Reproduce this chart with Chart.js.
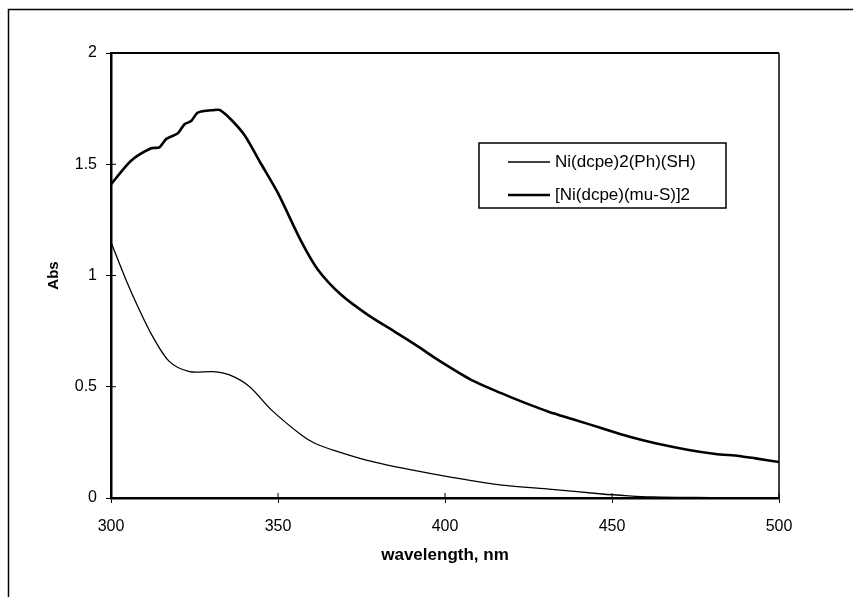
<!DOCTYPE html>
<html>
<head>
<meta charset="utf-8">
<script src="https://cdn.jsdelivr.net/npm/chart.js@4.4.1/dist/chart.umd.min.js"></script>
<style>
  html, body { margin: 0; padding: 0; background: #fff; }
  #wrap { width: 853px; height: 597px; position: relative; }
</style>
</head>
<body>
<div id="wrap"><canvas id="c" width="853" height="597"></canvas></div>
<script>
// ---- data ----
const seriesNames = ["Ni(dcpe)2(Ph)(SH)", "[Ni(dcpe)(mu-S)]2"];

const thinWavelength = [300, 304.5, 308.5, 312.5, 317.5, 323.5, 330.5, 335.5, 341.5, 348, 357, 361, 367, 377, 390, 402, 417, 432, 447, 455, 462, 470, 480, 490, 500];
const thinAbs        = [1.15, 0.98, 0.845, 0.725, 0.613, 0.568, 0.568, 0.553, 0.50, 0.396, 0.283, 0.246, 0.213, 0.168, 0.126, 0.093, 0.058, 0.039, 0.018, 0.010, 0.005, 0.003, 0.002, 0.001, 0.0];

const thickWavelength = [300, 306, 312, 314.5, 316.5, 320, 322, 324, 326, 331, 332.5, 336, 340, 345, 350, 357, 362, 369, 377, 385, 392, 398, 408, 417, 423, 431, 439, 447, 455, 463, 473, 481, 488, 493, 500];
const thickAbs        = [1.41, 1.516, 1.572, 1.576, 1.613, 1.639, 1.68, 1.694, 1.732, 1.744, 1.744, 1.70, 1.63, 1.50, 1.37, 1.152, 1.025, 0.912, 0.822, 0.747, 0.68, 0.62, 0.53, 0.47, 0.433, 0.388, 0.351, 0.313, 0.276, 0.246, 0.216, 0.198, 0.189, 0.178, 0.162];

const xTicks = [300, 350, 400, 450, 500];
const yTicks = [0, 0.5, 1, 1.5, 2];
const xTitle = "wavelength, nm";
const yTitle = "Abs";

// ---- build ----
const toXY = (xs, ys) => xs.map((x, i) => ({ x: x, y: ys[i] }));
const FONT = "'Liberation Sans', Arial, sans-serif";

const frame = {
  id: 'frame',
  beforeDraw(chart) {
    const ctx = chart.ctx;
    ctx.save();
    ctx.fillStyle = '#fff';
    ctx.fillRect(0, 0, chart.width, chart.height);
    ctx.strokeStyle = '#000';
    ctx.lineWidth = 1.5;
    ctx.strokeRect(8.5, 9.5, 900, 700);
    ctx.restore();
  },
  afterDraw(chart) {
    const ctx = chart.ctx;
    const a = chart.chartArea;
    const xs = chart.scales.x, ys = chart.scales.y;
    ctx.save();
    ctx.strokeStyle = '#000';
    ctx.lineWidth = 2;
    ctx.beginPath();
    ctx.moveTo(a.left, a.top); ctx.lineTo(a.right, a.top);
    ctx.stroke();
    ctx.lineWidth = 1.5;
    ctx.beginPath();
    ctx.moveTo(a.right, a.top); ctx.lineTo(a.right, a.bottom);
    ctx.stroke();
    ctx.lineWidth = 1;
    ctx.beginPath();
    xTicks.forEach(v => { const p = xs.getPixelForValue(v); ctx.moveTo(p, a.bottom); ctx.lineTo(p, a.bottom - 5); });
    yTicks.forEach(v => { const p = ys.getPixelForValue(v); ctx.moveTo(a.left, p); ctx.lineTo(a.left + 5, p); });
    ctx.stroke();
    // legend box
    const lx = a.left + 368, ly = a.top + 90, lw = 247, lh = 65;
    ctx.lineWidth = 1.5;
    ctx.strokeRect(lx, ly, lw, lh);
    ctx.font = "17px " + FONT;
    ctx.fillStyle = '#000';
    ctx.textBaseline = 'middle';
    chart.data.datasets.forEach((ds, i) => {
      const yy = ly + 19 + i * 33;
      ctx.lineWidth = ds.borderWidth;
      ctx.beginPath();
      ctx.moveTo(lx + 29, yy); ctx.lineTo(lx + 71, yy);
      ctx.stroke();
      ctx.fillText(ds.label, lx + 76, yy);
    });
    ctx.restore();
  }
};

new Chart(document.getElementById('c'), {
  type: 'line',
  data: {
    datasets: [
      { label: seriesNames[0], data: toXY(thinWavelength, thinAbs), borderColor: '#000', borderWidth: 1.3, pointRadius: 0, tension: 0.3, fill: false },
      { label: seriesNames[1], data: toXY(thickWavelength, thickAbs), borderColor: '#000', borderWidth: 2.6, pointRadius: 0, tension: 0.25, fill: false }
    ]
  },
  options: {
    responsive: false,
    animation: false,
    devicePixelRatio: 1,
    layout: { padding: { left: 41, right: 74, top: 53, bottom: 27 } },
    plugins: { legend: { display: false }, tooltip: { enabled: false } },
    scales: {
      x: {
        type: 'linear', min: 300, max: 500,
        afterBuildTicks: s => { s.ticks = xTicks.map(v => ({ value: v })); },
        afterFit: s => { s.height = 72; },
        ticks: { color: '#000', font: { family: FONT, size: 16 }, padding: 14, maxRotation: 0, callback: v => String(v) },
        grid: { display: true, drawOnChartArea: false, drawTicks: true, tickLength: 5, color: '#000', lineWidth: 1 },
        border: { display: true, color: '#000', width: 2.5 },
        title: { display: true, text: xTitle, color: '#000', font: { family: FONT, size: 17, weight: 'bold' }, padding: { top: 4, bottom: 4 } }
      },
      y: {
        type: 'linear', min: 0, max: 2,
        afterBuildTicks: s => { s.ticks = yTicks.map(v => ({ value: v })); },
        afterFit: s => { s.width = 70; },
        ticks: { color: '#000', font: { family: FONT, size: 16 }, padding: 9, callback: v => String(v) },
        grid: { display: true, drawOnChartArea: false, drawTicks: true, tickLength: 5, color: '#000', lineWidth: 1 },
        border: { display: true, color: '#000', width: 2.5 },
        title: { display: true, text: yTitle, color: '#000', font: { family: FONT, size: 15, weight: 'bold' }, padding: { top: 4, bottom: 4 } }
      }
    }
  },
  plugins: [frame]
});
</script>
</body>
</html>
